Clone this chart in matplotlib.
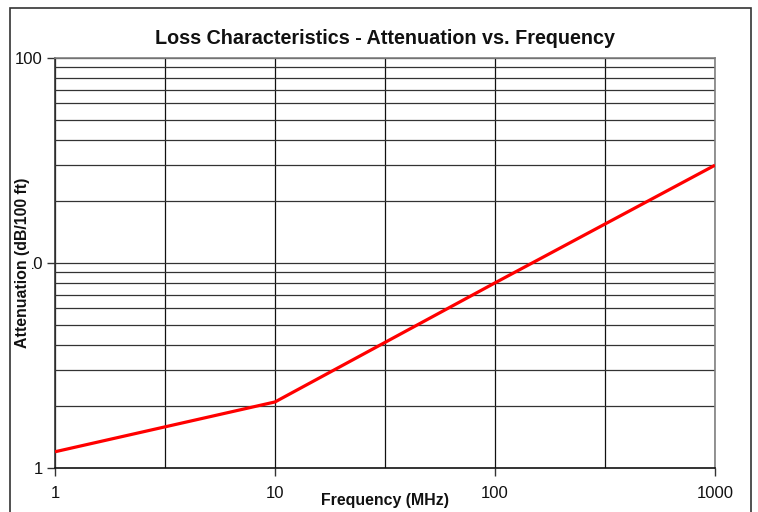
import matplotlib
matplotlib.use("Agg")
import matplotlib.pyplot as plt
from matplotlib.patches import Rectangle
from matplotlib.ticker import FixedLocator, NullFormatter, NullLocator

freq_mhz = [1, 10, 100, 1000]
atten_db = [1.2, 2.1, 8.0, 30.0]
x_ticks = [1, 10, 100, 1000]
x_tick_labels = ["1", "10", "100", "1000"]
x_grid = [1, 3.162, 10, 31.62, 100, 316.2, 1000]
y_ticks = [1, 10, 100]
y_tick_labels = ["1", "10", "100"]

plt.rcParams['font.family'] = ['Liberation Sans', 'DejaVu Sans']

W, H = 758, 512
fig = plt.figure(figsize=(W/100, H/100), dpi=100)
fig.patch.set_facecolor('white')

# outer chart border
fig.patches.append(Rectangle((10/W, -0.05), (751-10)/W, (512-8)/H + 0.05,
                             transform=fig.transFigure, fill=False,
                             edgecolor='#333333', linewidth=1.2, zorder=-5))

ax = fig.add_axes([55/W, 1-468/H, (715-55)/W, (468-58)/H])
ax.set_xscale('log')
ax.set_yscale('log')
ax.set_xlim(1, 1000)
ax.set_ylim(1, 100)

# grid
for xv in x_grid:
    ax.axvline(xv, color='#111111', linewidth=0.9, zorder=1)
minor_y = [m * d for d in (1, 10) for m in range(2, 10)]
for yv in minor_y + [10]:
    ax.axhline(yv, color='#333333', linewidth=0.9, zorder=1)
ax.axhline(100, color='#333333', linewidth=0.9, zorder=1)

ax.plot(freq_mhz, atten_db, color='#ff0000', linewidth=2.3, zorder=3, solid_capstyle='butt')

ax.xaxis.set_major_locator(FixedLocator(x_ticks))
ax.xaxis.set_minor_locator(NullLocator())
ax.set_xticklabels(x_tick_labels)
ax.yaxis.set_major_locator(FixedLocator(y_ticks))
ax.yaxis.set_minor_locator(NullLocator())
ax.set_yticklabels(y_tick_labels)
ax.xaxis.set_minor_formatter(NullFormatter())
ax.yaxis.set_minor_formatter(NullFormatter())

ax.tick_params(axis='both', direction='out', length=6, width=1, color='#333333',
               labelsize=12, labelcolor='#111111')
ax.tick_params(axis='x', pad=7)
ax.tick_params(axis='y', pad=2.7)

for s in ax.spines.values():
    s.set_color('#808080')
    s.set_linewidth(1.2)
ax.spines['left'].set_color('#333333')
ax.spines['bottom'].set_color('#111111')

ax.set_title('Loss Characteristics - Attenuation vs. Frequency', fontsize=14.2,
             fontweight='bold', pad=10, color='#111111')
ax.set_xlabel('Frequency (MHz)', fontsize=11.4, fontweight='bold', labelpad=-6, color='#111111')
ylab = ax.set_ylabel('Attenuation (dB/100 ft)', fontsize=11.4, fontweight='bold', color='#111111')
ax.yaxis.set_label_coords((23.0 - 55) / 660, 0.5)
ylab.set_verticalalignment('center')
ylab.set_bbox(dict(facecolor='white', edgecolor='none', pad=0.8))
ylab.set_zorder(10)

fig.savefig('out.png', dpi=100, facecolor='white')
